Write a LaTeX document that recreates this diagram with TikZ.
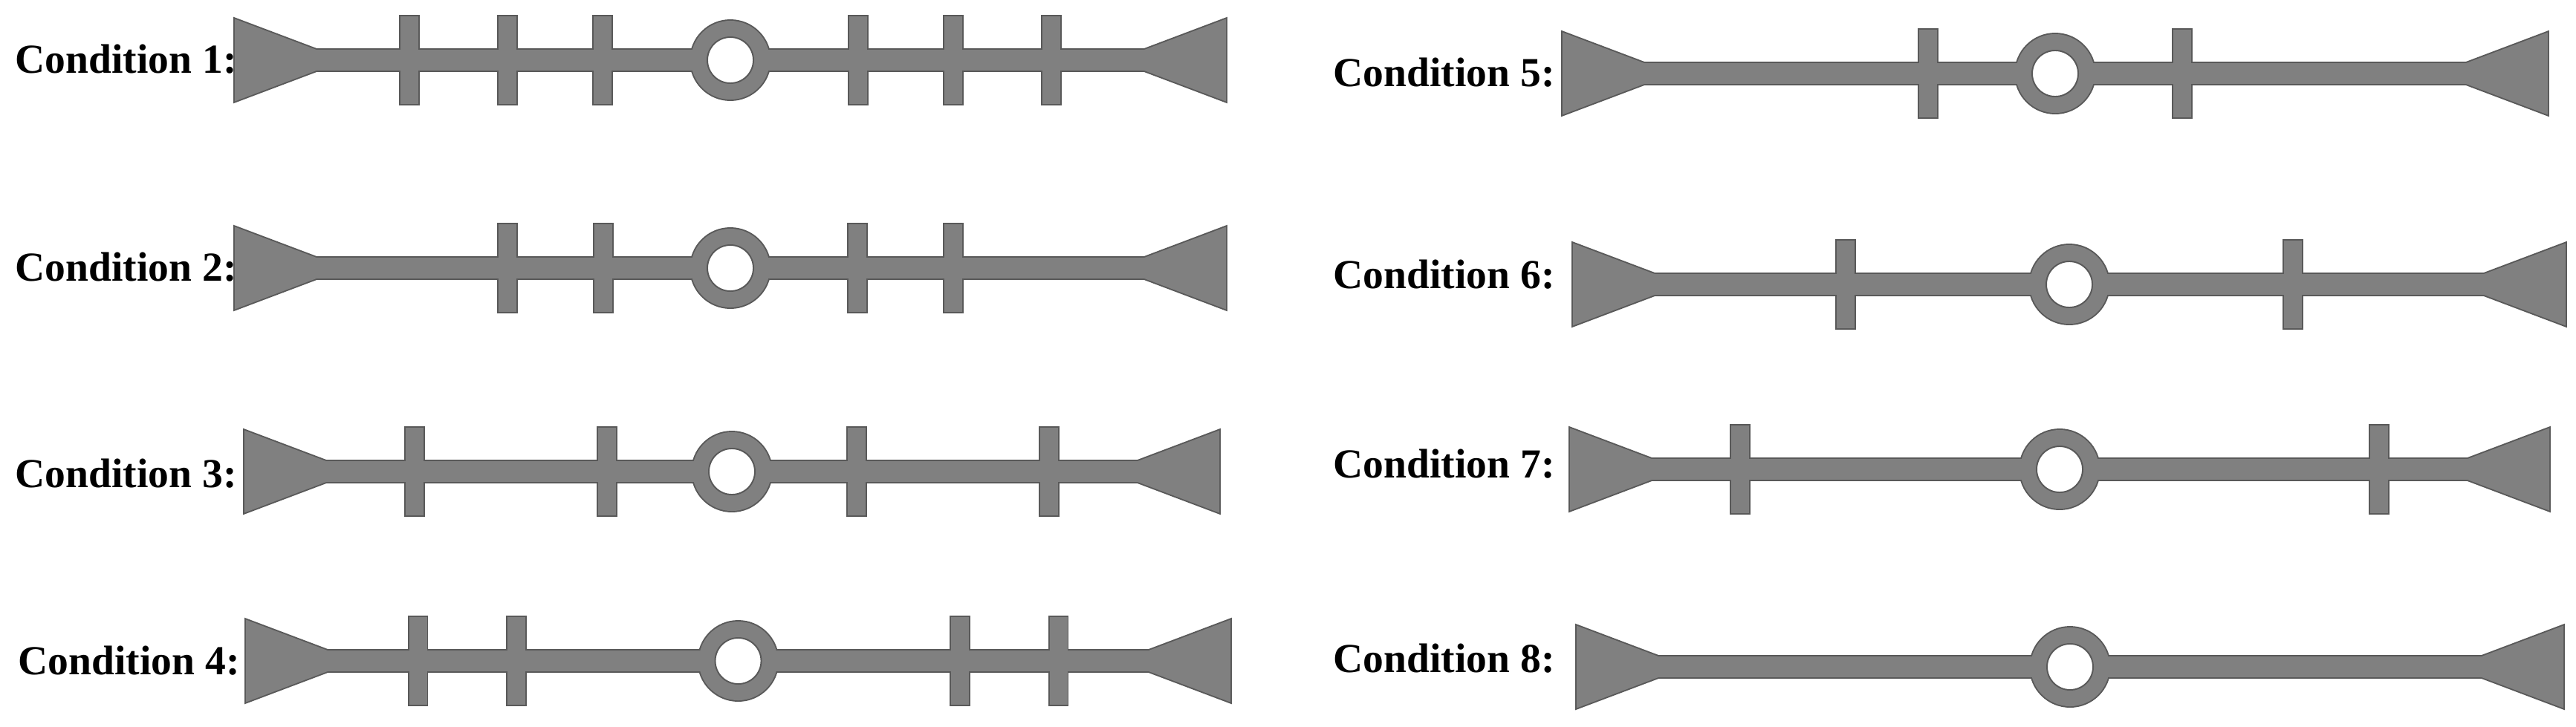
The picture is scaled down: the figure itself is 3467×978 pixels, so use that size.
\documentclass[tikz,border=0pt]{standalone}
\usepackage{fontspec}
\setmainfont{Liberation Serif}

\definecolor{sealgray}{HTML}{808080}
\definecolor{sealrim}{HTML}{595959}

\tikzset{
  barout/.style={draw=sealrim, fill=sealrim, line width=1.1pt},
  barfill/.style={fill=sealgray},
  barhole/.style={fill=white, draw=sealrim, line width=0.55pt},
  condlabel/.style={anchor=west, inner sep=0pt, font=\bfseries\fontsize{15.8}{19}\selectfont}
}

% centre x, centre y, half length, tick offsets
\newcommand{\condbar}[4]{%
  \begin{scope}[shift={(#1,#2)}]
    \foreach \sty in {barout,barfill} {
      \path[\sty] (-#3,55.5) -- (-#3+147,0) -- (-#3,-55.5) -- cycle;
      \path[\sty] (#3,-55.5) -- (#3-147,0) -- (#3,55.5) -- cycle;
      \path[\sty] (-#3+110,-14) rectangle (#3-110,14);
      \path[\sty] (0,0) circle[radius=0.53cm];
      \foreach \t in {#4} {
        \path[\sty] (-\t-12,-59) rectangle (-\t+12,59);
        \path[\sty] (\t-12,-59) rectangle (\t+12,59);
      }
    }
    \filldraw[barhole] (0,0) circle[radius=0.31cm];
  \end{scope}}

\begin{document}
\begin{tikzpicture}[x=0.01cm, y=-0.01cm]
  \useasboundingbox (0,0) rectangle (3467,978);

  % left column
  \node[condlabel] (c1) at (20,80) {Condition 1:};
  \condbar{983}{81}{667}{172,300,432}
  \node[condlabel] (c2) at (20,360) {Condition 2:};
  \condbar{983}{361}{667}{171,300}
  \node[condlabel] (c3) at (20,638) {Condition 3:};
  \condbar{985}{635}{656}{168,427}
  \node[condlabel] (c4) at (24,890) {Condition 4:};
  \condbar{993.5}{890}{662.5}{298.5,431}

  % right column
  \node[condlabel] (c5) at (1794,98) {Condition 5:};
  \condbar{2766}{99}{663}{171}
  \node[condlabel] (c6) at (1794,370) {Condition 6:};
  \condbar{2785}{383}{668}{301}
  \node[condlabel] (c7) at (1794,625) {Condition 7:};
  \condbar{2772}{632}{659}{430}
  \node[condlabel] (c8) at (1794,887) {Condition 8:};
  \condbar{2786}{898}{664}{}
\end{tikzpicture}
\end{document}
